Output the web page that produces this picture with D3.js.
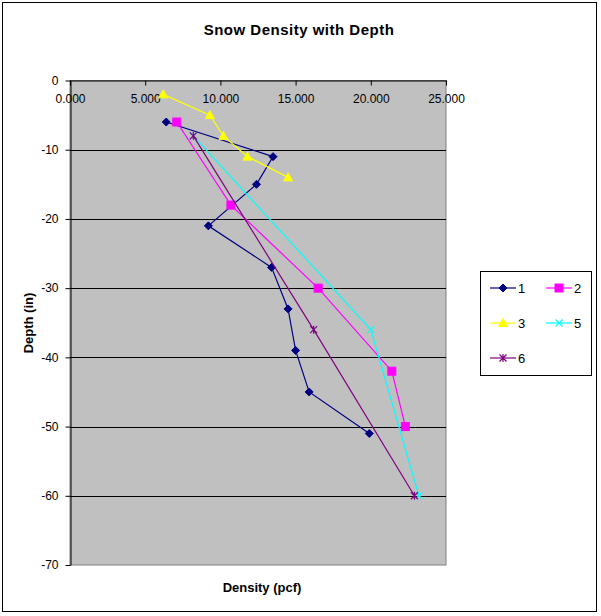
<!DOCTYPE html>
<html><head><meta charset="utf-8">
<script src="https://cdn.jsdelivr.net/npm/d3@7"></script>
<style>body{margin:0;background:#fff}svg text{font-family:Arial,"Liberation Sans",sans-serif}</style>
</head><body><svg id="c" width="601" height="616"></svg>
<script>
const title = "Snow Density with Depth";
const xTitle = "Density (pcf)";
const yTitle = "Depth (in)";
const xTicks = [0, 5, 10, 15, 20, 25];
const yTicks = [0, -10, -20, -30, -40, -50, -60, -70];
const seriesNames = ["1", "2", "3", "5", "6"];
const depth1 = [-6, -11, -15, -21, -27, -33, -39, -45, -51];
const dens1  = [6.4, 13.5, 12.4, 9.2, 13.4, 14.5, 15.0, 15.9, 19.9];
const depth2 = [-6, -18, -30, -42, -50];
const dens2  = [7.1, 10.7, 16.5, 21.4, 22.3];
const depth3 = [-2, -5, -8, -11, -14];
const dens3  = [6.2, 9.3, 10.2, 11.8, 14.5];
const depth5 = [-8, -36, -60];
const dens5  = [8.2, 20.0, 23.2];
const depth6 = [-8, -36, -60];
const dens6  = [8.2, 16.2, 22.9];

const colors = ["#000080", "#FF00FF", "#FFFF00", "#00FFFF", "#800080"];
const markers = ["diamond", "square", "triangle", "x", "star"];
const series = [
  {name: seriesNames[0], d: depth1, v: dens1},
  {name: seriesNames[1], d: depth2, v: dens2},
  {name: seriesNames[2], d: depth3, v: dens3},
  {name: seriesNames[3], d: depth5, v: dens5},
  {name: seriesNames[4], d: depth6, v: dens6}
];

const svg = d3.select("#c");
const L = 70, R = 446, T = 80.5, B = 565;
const x = d3.scaleLinear().domain([0, 25]).range([L, R]);
const y = d3.scaleLinear().domain([0, -70]).range([T, B]);

// outer border
svg.append("rect").attr("x", 2.5).attr("y", 2.5).attr("width", 594).attr("height", 609)
  .attr("fill", "#fff").attr("stroke", "#000").attr("stroke-width", 1);

// plot area
svg.append("rect").attr("x", L).attr("y", T).attr("width", R - L).attr("height", B - T)
  .attr("fill", "#C0C0C0").attr("stroke", "#808080").attr("stroke-width", 1);

// gridlines
svg.append("g").selectAll("line").data(yTicks.filter(t => t !== 0 && t !== -70)).join("line")
  .attr("x1", L).attr("x2", R).attr("y1", d => Math.round(y(d)) + 0.5).attr("y2", d => Math.round(y(d)) + 0.5)
  .attr("stroke", "#000").attr("stroke-width", 1);

// y axis
const ya = svg.append("g").attr("transform", `translate(${L + 0.5},0)`)
  .call(d3.axisLeft(y).tickValues(yTicks).tickFormat(d => String(d)).tickSize(5).tickPadding(7).tickSizeOuter(0));
ya.select(".domain").attr("stroke", "#000");
ya.selectAll("text").attr("font-size", 12).attr("fill", "#000");

// x axis (at top, ticks/labels below)
const xa = svg.append("g").attr("transform", `translate(0,${T})`)
  .call(d3.axisBottom(x).tickValues(xTicks).tickFormat(d3.format(".3f")).tickSize(5).tickPadding(9).tickSizeOuter(0));
xa.select(".domain").attr("stroke", "#000");
xa.selectAll("text").attr("font-size", 12).attr("fill", "#000");

// marker drawing
function drawMarker(g, type, color, cx, cy) {
  if (type === "diamond") {
    g.append("path").attr("d", `M${cx},${cy-4}L${cx+4},${cy}L${cx},${cy+4}L${cx-4},${cy}Z`).attr("fill", color).attr("stroke", color);
  } else if (type === "square") {
    g.append("rect").attr("x", cx - 4).attr("y", cy - 4).attr("width", 8).attr("height", 8).attr("fill", color).attr("stroke", color);
  } else if (type === "triangle") {
    g.append("path").attr("d", `M${cx},${cy-4.5}L${cx+4.5},${cy+3.5}L${cx-4.5},${cy+3.5}Z`).attr("fill", color).attr("stroke", color);
  } else if (type === "x") {
    g.append("path").attr("d", `M${cx-3.5},${cy-3.5}L${cx+3.5},${cy+3.5}M${cx-3.5},${cy+3.5}L${cx+3.5},${cy-3.5}`).attr("stroke", color).attr("stroke-width", 1.2);
  } else if (type === "star") {
    g.append("path").attr("d", `M${cx-3.5},${cy-3.5}L${cx+3.5},${cy+3.5}M${cx-3.5},${cy+3.5}L${cx+3.5},${cy-3.5}M${cx},${cy-4}L${cx},${cy+4}`).attr("stroke", color).attr("stroke-width", 1.2);
  }
}

const line = d3.line().x(p => x(p[0])).y(p => y(p[1]));
series.forEach((s, i) => {
  const pts = s.v.map((v, j) => [v, s.d[j]]);
  const g = svg.append("g");
  g.append("path").attr("d", line(pts)).attr("fill", "none").attr("stroke", colors[i]).attr("stroke-width", 1.2);
  pts.forEach(p => drawMarker(g, markers[i], colors[i], x(p[0]), y(p[1])));
});

// titles
svg.append("text").attr("x", 299).attr("y", 35).attr("text-anchor", "middle")
  .attr("font-size", 15).attr("letter-spacing", 0.5).attr("font-weight", "bold").text(title);
svg.append("text").attr("x", 262).attr("y", 592).attr("text-anchor", "middle")
  .attr("font-size", 13).attr("font-weight", "bold").text(xTitle);
svg.append("text").attr("transform", "translate(33,323) rotate(-90)").attr("text-anchor", "middle")
  .attr("font-size", 13).attr("font-weight", "bold").text(yTitle);

// legend
svg.append("rect").attr("x", 480.5).attr("y", 271.5).attr("width", 111).attr("height", 104)
  .attr("fill", "#fff").attr("stroke", "#000").attr("stroke-width", 1);
const legPos = [[490, 288], [546, 288], [490, 323], [546, 323], [490, 358]];
series.forEach((s, i) => {
  const [lx, ly] = legPos[i];
  const g = svg.append("g");
  g.append("line").attr("x1", lx).attr("x2", lx + 26).attr("y1", ly).attr("y2", ly).attr("stroke", colors[i]).attr("stroke-width", 1.2);
  drawMarker(g, markers[i], colors[i], lx + 13, ly);
  g.append("text").attr("x", lx + 28).attr("y", ly + 5).attr("font-size", 13).attr("fill", "#000").text(s.name);
});
</script></body></html>
